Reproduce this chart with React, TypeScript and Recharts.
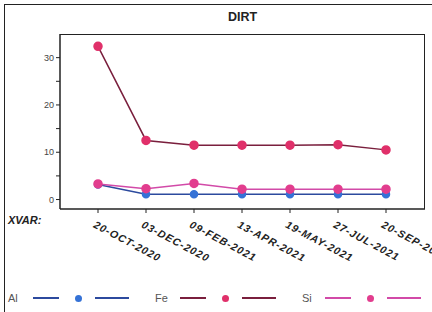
import { LineChart, Line, XAxis, YAxis } from "recharts";

const dates = ["20-OCT-2020", "03-DEC-2020", "09-FEB-2021", "13-APR-2021", "19-MAY-2021", "27-JUL-2021", "20-SEP-2021"];
const al = [3.2, 1.1, 1.1, 1.1, 1.1, 1.1, 1.1];
const fe = [32.4, 12.5, 11.5, 11.5, 11.5, 11.6, 10.5];
const si = [3.3, 2.3, 3.4, 2.2, 2.2, 2.2, 2.2];
const yTicks = [0, 5, 10, 15, 20, 25, 30];

const data = dates.map((d, i) => ({ date: d, Al: al[i], Fe: fe[i], Si: si[i] }));

const AL_LINE = "#2c4a9e";
const AL_DOT = "#3572d6";
const FE_LINE = "#7a1f3d";
const FE_DOT = "#e0306a";
const SI_LINE = "#d24aa8";
const SI_DOT = "#e23d8e";

function DateTick({ x, y, payload }: any) {
  return (
    <g transform={`translate(${x},${y}) rotate(28)`}>
      <text x={1} y={13} textAnchor="start" fontSize={10.5} fontWeight="bold" fontStyle="italic" letterSpacing={1}
        fontFamily="Liberation Sans, Arial, sans-serif" fill="#222">
        {payload.value}
      </text>
    </g>
  );
}

function LegendItem({ label, line, dot, x, gap }: { label: string; line: string; dot: string; x: number; gap: number }) {
  return (
    <div style={{ position: "absolute", left: x, top: 291, height: 14, display: "flex", alignItems: "center" }}>
      <span style={{ width: gap, color: "#555", fontSize: 11 }}>{label}</span>
      <span style={{ width: 26, height: 1.5, background: line }} />
      <span style={{ width: 7, height: 7, borderRadius: 4, background: dot, margin: "0 13px 0 16px" }} />
      <span style={{ width: 34, height: 1.5, background: line }} />
    </div>
  );
}

export default function App() {
  return (
    <div style={{ position: "absolute", left: 0, top: 0, width: 432, height: 312, background: "#fff",
      fontFamily: "Liberation Sans, Arial, sans-serif", overflow: "hidden" }}>
      <div style={{ position: "absolute", left: 4, top: 4, width: 440, height: 320, borderLeft: "1.5px solid #222", borderTop: "1.5px solid #222" }} />
      <div style={{ position: "absolute", left: 0, width: 485, top: 10, textAlign: "center", fontWeight: "bold", fontSize: 12.5, color: "#222" }}>
        DIRT
      </div>
      <LineChart width={432} height={312} data={data} margin={{ top: 34, right: 7, left: 0, bottom: 0 }}>
        <XAxis dataKey="date" height={103} padding={{ left: 38, right: 39 }} tick={<DateTick />} tickSize={4}
          tickLine={{ stroke: "#222" }} axisLine={{ stroke: "#222", strokeWidth: 1.5 }} interval={0} />
        <YAxis width={60} domain={[-2, 35]} ticks={yTicks} tickSize={4} interval={0}
          tickFormatter={(v: number) => (v % 10 === 0 ? String(v) : "")}
          tick={{ fontSize: 9, fill: "#444" }} tickLine={{ stroke: "#222" }} axisLine={{ stroke: "#222", strokeWidth: 1.5 }} />
        <Line dataKey="Al" stroke={AL_LINE} strokeWidth={1.5} isAnimationActive={false}
          dot={{ r: 3.5, fill: AL_DOT, stroke: AL_DOT }} />
        <Line dataKey="Fe" stroke={FE_LINE} strokeWidth={1.5} isAnimationActive={false}
          dot={{ r: 4, fill: FE_DOT, stroke: FE_DOT }} />
        <Line dataKey="Si" stroke={SI_LINE} strokeWidth={1.5} isAnimationActive={false}
          dot={{ r: 4, fill: SI_DOT, stroke: SI_DOT }} />
      </LineChart>
      <div style={{ position: "absolute", left: 60, top: 34, width: 365, height: 175, borderTop: "1.5px solid #222", borderRight: "1.5px solid #222", boxSizing: "border-box" }} />
      <div style={{ position: "absolute", left: 8, top: 214, fontSize: 11, fontWeight: "bold", fontStyle: "italic", color: "#222" }}>
        XVAR:
      </div>
      <LegendItem label="Al" line={AL_LINE} dot={AL_DOT} x={8} gap={25} />
      <LegendItem label="Fe" line={FE_LINE} dot={FE_DOT} x={155} gap={25} />
      <LegendItem label="Si" line={SI_LINE} dot={SI_DOT} x={302} gap={23} />
    </div>
  );
}
